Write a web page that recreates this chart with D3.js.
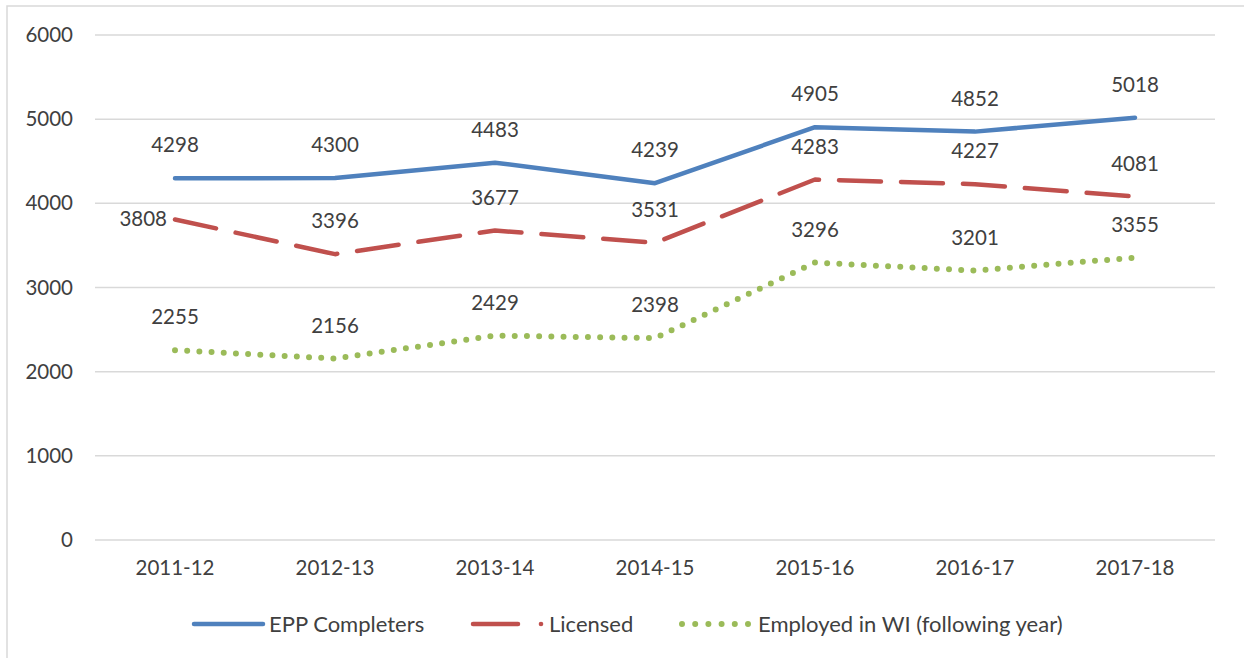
<!DOCTYPE html>
<html>
<head>
<meta charset="utf-8">
<script src="https://cdn.jsdelivr.net/npm/d3@7"></script>
<style>
  body { margin: 0; background: #fff; }
  text { font-family: Lato, "Open Sans", sans-serif; fill: #404040; }
</style>
</head>
<body>
<div id="chart"></div>
<script>
var years = ["2011-12", "2012-13", "2013-14", "2014-15", "2015-16", "2016-17", "2017-18"];
var completers = [4298, 4300, 4483, 4239, 4905, 4852, 5018];
var licensed = [3808, 3396, 3677, 3531, 4283, 4227, 4081];
var employed = [2255, 2156, 2429, 2398, 3296, 3201, 3355];
var yTicks = [0, 1000, 2000, 3000, 4000, 5000, 6000];

var series = [
  {name: "EPP Completers", values: completers, color: "#4f81bd", dash: null, width: 4.5},
  {name: "Licensed", values: licensed, color: "#c0504d", dash: "42,20", width: 4.5},
  {name: "Employed in WI (following year)", values: employed, color: "#9bbb59", dash: "0,12.2", width: 6}
];

var W = 1244, H = 658;
var margin = {top: 35, left: 95, right: 29, bottom: 118};
var width = W - margin.left - margin.right,
    height = H - margin.top - margin.bottom;

var svg = d3.select("#chart").append("svg")
    .attr("width", W).attr("height", H);

svg.append("rect")
    .attr("x", 7).attr("y", 6)
    .attr("width", W).attr("height", H)
    .attr("fill", "none").attr("stroke", "#d9d9d9").attr("stroke-width", 1.5);

var g = svg.append("g").attr("transform", "translate(" + margin.left + "," + margin.top + ")");

var x = d3.scaleBand().domain(years).range([0, width]);
var y = d3.scaleLinear().domain([0, 6000]).range([height, 0]);

// gridlines
g.selectAll(".grid").data(yTicks).enter().append("line")
    .attr("x1", 0).attr("x2", width)
    .attr("y1", function(d) { return y(d); })
    .attr("y2", function(d) { return y(d); })
    .attr("stroke", "#d9d9d9").attr("stroke-width", 1.5);

// y axis labels
var yAxis = d3.axisLeft(y).tickValues(yTicks).tickFormat(d3.format("d")).tickSize(0).tickPadding(22);
g.append("g").call(yAxis)
    .call(function(a) { a.select(".domain").remove(); })
    .selectAll("text").style("font-size", "20.5px").attr("fill", "#404040");

// x axis labels
var xAxis = d3.axisBottom(x).tickSize(0).tickPadding(20);
g.append("g").attr("transform", "translate(0," + height + ")").call(xAxis)
    .call(function(a) { a.select(".domain").remove(); })
    .selectAll("text").style("font-size", "20.5px").attr("fill", "#404040");

var line = d3.line()
    .x(function(d, i) { return x(years[i]) + x.bandwidth() / 2; })
    .y(function(d) { return y(d); });

series.forEach(function(s) {
  g.append("path")
      .attr("d", line(s.values))
      .attr("fill", "none")
      .attr("stroke", s.color)
      .attr("stroke-width", s.width)
      .attr("stroke-linecap", "round")
      .attr("stroke-linejoin", "round")
      .attr("stroke-dasharray", s.dash);

  g.selectAll(null).data(s.values).enter().append("text")
      .attr("x", function(d, i) {
        var cx = x(years[i]) + x.bandwidth() / 2;
        return (s.name === "Licensed" && i === 0) ? cx - 8 : cx;
      })
      .attr("y", function(d, i) {
        return (s.name === "Licensed" && i === 0) ? y(d) + 7 : y(d) - 26;
      })
      .attr("text-anchor", function(d, i) {
        return (s.name === "Licensed" && i === 0) ? "end" : "middle";
      })
      .style("font-size", "20.5px")
      .text(function(d) { return d; });
});

// legend
var legend = svg.append("g").attr("transform", "translate(0,624)");
var legendItems = [
  {x1: 194, x2: 263, tx: 269},
  {x1: 473, x2: 518, tx: 549, dot: 541},
  {x1: 682, x2: 748, tx: 758}
];
series.forEach(function(s, i) {
  var it = legendItems[i];
  legend.append("line")
      .attr("x1", it.x1).attr("x2", it.x2)
      .attr("y1", 0).attr("y2", 0)
      .attr("stroke", s.color)
      .attr("stroke-width", s.width)
      .attr("stroke-linecap", "round")
      .attr("stroke-dasharray", i === 2 ? "0,13.2" : null);
  if (it.dot) {
    legend.append("circle").attr("cx", it.dot).attr("cy", 0).attr("r", 2.3).attr("fill", s.color);
  }
  legend.append("text")
      .attr("x", it.tx).attr("y", 0).attr("dy", "0.35em")
      .style("font-size", "22px")
      .text(s.name);
});
</script>
</body>
</html>
